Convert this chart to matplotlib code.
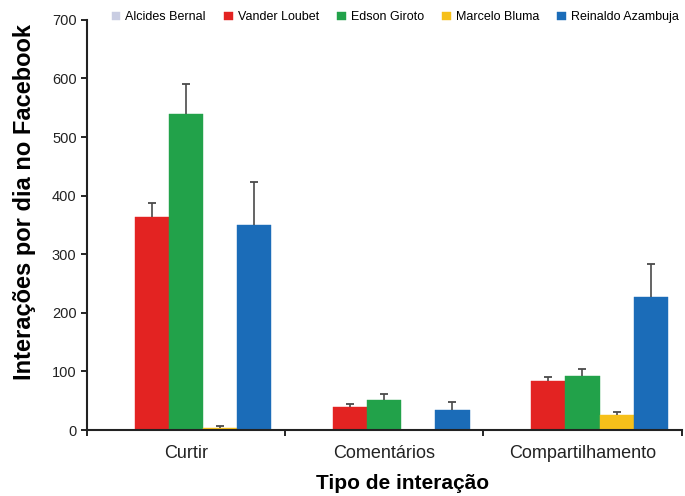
import matplotlib
matplotlib.use("Agg")
import matplotlib.pyplot as plt
import numpy as np

plt.rcParams['font.family'] = ['Liberation Sans', 'DejaVu Sans']

categories = ["Curtir", "Comentários", "Compartilhamento"]
names = ["Alcides Bernal", "Vander Loubet", "Edson Giroto", "Marcelo Bluma", "Reinaldo Azambuja"]
colors = ["#c9cde2", "#e32322", "#22a24a", "#f6c01a", "#1b6cb8"]

# mean values per person (rows) for each category (cols)
means = [
    [0, 0, 0],
    [364, 40, 84],
    [540, 52, 92],
    [4, 0, 26],
    [350, 35, 227],
]
# upper error (sd)
errors = [
    [0, 0, 0],
    [24, 4, 6],
    [50, 10, 13],
    [3, 0, 4],
    [74, 13, 57],
]

fig = plt.figure(figsize=(6.85, 4.96), dpi=100)
ax = fig.add_axes([0.127, 0.133, 0.868, 0.827])

x = np.arange(len(categories)) + 0.5
w = 0.172
for i, name in enumerate(names):
    pos = x + (i - 2) * w
    m = np.array(means[i])
    e = np.array(errors[i])
    ax.bar(pos, m, width=w, color=colors[i], label=name, edgecolor=colors[i], linewidth=0.3)
    show = e > 0
    # only the upper whisker, cap on top
    ax.vlines(pos[show], m[show], m[show] + e[show], color='#4a4a4a', linewidth=1.2, zorder=3)
    ax.plot(pos[show], m[show] + e[show], ls='none', marker='_', markersize=6,
            markeredgewidth=1.3, color='#4a4a4a', zorder=3)

ax.set_xlim(0, 3)
ax.set_ylim(0, 700)
ax.set_yticks(range(0, 701, 100))
ax.set_xticks([0, 1, 2, 3])
ax.set_xticklabels([])
ax.set_xticks(x, minor=True)
ax.set_xticklabels(categories, minor=True, fontsize=13, color='#222222')
ax.tick_params(axis='x', which='minor', length=0, pad=11)
ax.tick_params(axis='x', which='major', direction='out', length=4, width=1.2)
ax.tick_params(axis='y', direction='out', length=4, width=1.2, labelsize=10.5, labelcolor='#222222')

for s in ['top', 'right']:
    ax.spines[s].set_visible(False)
for s in ['left', 'bottom']:
    ax.spines[s].set_linewidth(1.5)
    ax.spines[s].set_color('#222222')

ax.set_ylabel("Interações por dia no Facebook", fontsize=17, fontweight='bold')
ax.yaxis.set_label_coords(-0.086, 0.555)
ax.set_xlabel("Tipo de interação", fontsize=15, fontweight='bold')
ax.xaxis.set_label_coords(0.531, -0.107)

fig.legend(loc='upper center', bbox_to_anchor=(0.577, 1.0), ncol=5, frameon=False,
           fontsize=9, handlelength=0.7, handleheight=0.7, handletextpad=0.4, columnspacing=1.45)

fig.savefig("out.png", dpi=100)
